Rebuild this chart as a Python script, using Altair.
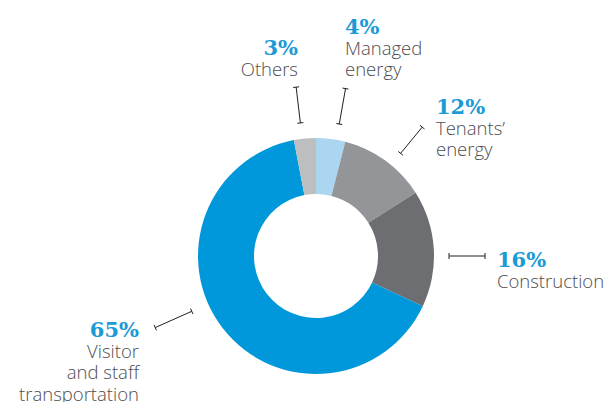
import math
import altair as alt
import pandas as pd

# ---- data ----
categories = ["Managed energy", "Tenants' energy", "Construction",
              "Visitor and staff transportation", "Others"]
values = [4, 12, 16, 65, 3]
pct_labels = ["4%", "12%", "16%", "65%", "3%"]
name_labels = ["Managed\nenergy", "Tenants’\nenergy", "Construction",
               "Visitor\nand staff\ntransportation", "Others"]
colors = ["#ABD5F0", "#939598", "#6D6E71", "#0098DA", "#BCBEC0"]

# ---- layout (chart coordinates, page margin removed) ----
W, H = 597, 394
CX, CY = 308, 248
R_IN, R_OUT = 62, 118
label_anchor = [(337, 26, "left"), (428, 106, "left"), (489, 259, "left"),
                (131, 329, "right"), (290, 47, "right")]
leader_angle = [10, 39.5, 90, 246, -6.7]
leader_r = [(134, 170), (133, 167), (133, 169), (136, 176), (134, 170)]

df = pd.DataFrame({"category": categories, "value": values,
                   "order": list(range(len(values)))})

arc = alt.Chart(df).mark_arc(innerRadius=R_IN, outerRadius=R_OUT).encode(
    theta=alt.Theta("value:Q", stack=True),
    color=alt.Color("category:N", scale=alt.Scale(domain=categories, range=colors), legend=None),
    order=alt.Order("order:Q"),
    x=alt.value(CX), y=alt.value(CY),
)

xs = alt.Scale(domain=[0, W], nice=False, zero=False)
ys = alt.Scale(domain=[0, H], nice=False, zero=False, reverse=True)

# labels
lab = pd.DataFrame({
    "pct": pct_labels,
    "name": name_labels,
    "x": [a[0] for a in label_anchor],
    "y": [a[1] for a in label_anchor],
    "y2": [a[1] + 20.5 for a in label_anchor],
    "align": [a[2] for a in label_anchor],
})

def text_layer(field, ycol, align, **kw):
    d = lab[lab["align"] == align]
    return alt.Chart(d).mark_text(align=align, baseline="alphabetic", **kw).encode(
        x=alt.X("x:Q", scale=xs, axis=None),
        y=alt.Y(f"{ycol}:Q", scale=ys, axis=None),
        text=alt.Text(f"{field}:N"),
    )

pct_style = dict(font="DejaVu Serif", fontWeight="bold", fontSize=21, color="#1B9AD6")
name_style = dict(font="Open Sans", fontWeight=300, fontSize=18.5, color="#4D4D4F",
                  lineBreak="\n", lineHeight=21.5)

texts = []
for al in ["left", "right"]:
    texts.append(text_layer("pct", "y", al, **pct_style))
    texts.append(text_layer("name", "y2", al, **name_style))

# leader lines with end caps
segs = []
for ang, (r1, r2) in zip(leader_angle, leader_r):
    t = math.radians(ang)
    ux, uy = math.sin(t), -math.cos(t)
    px, py = -uy, ux
    x1, y1 = CX + r1 * ux, CY + r1 * uy
    x2, y2 = CX + r2 * ux, CY + r2 * uy
    segs.append({"x": x1, "y": y1, "x2": x2, "y2": y2})
    for (ex, ey) in [(x1, y1), (x2, y2)]:
        segs.append({"x": ex - 3 * px, "y": ey - 3 * py, "x2": ex + 3 * px, "y2": ey + 3 * py})
seg_df = pd.DataFrame(segs)

rules = alt.Chart(seg_df).mark_rule(color="#231F20", strokeWidth=1).encode(
    x=alt.X("x:Q", scale=xs, axis=None), y=alt.Y("y:Q", scale=ys, axis=None),
    x2="x2:Q", y2="y2:Q",
)

chart = alt.layer(arc, rules, *texts).properties(
    width=W, height=H, autosize=alt.AutoSizeParams(type="none"), padding=0,
    background="white",
).configure_view(stroke=None)

chart.save("out.html", embed_options={"renderer": "svg", "actions": False})
